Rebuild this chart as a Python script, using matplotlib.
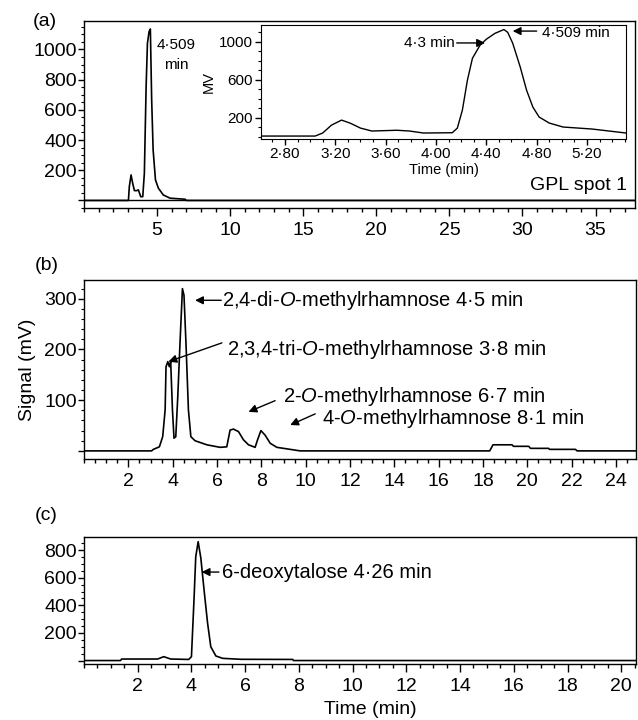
import numpy as np
import matplotlib
matplotlib.use("Agg")
import matplotlib.pyplot as plt
from matplotlib.ticker import MultipleLocator, FixedLocator

plt.rcParams['font.family'] = ['Liberation Sans', 'DejaVu Sans']
plt.rcParams['mathtext.fontset'] = 'custom'
plt.rcParams['mathtext.rm'] = 'Liberation Sans'
plt.rcParams['mathtext.it'] = 'Liberation Sans:italic'

# ---- data ----
# (a) GPL spot 1, full run
a_time = [0, 3.04, 3.10, 3.22, 3.33, 3.45, 3.61, 3.72, 3.88, 4.02, 4.13, 4.25, 4.34,
          4.45, 4.54, 4.63, 4.73, 4.89, 5.09, 5.43, 5.89, 6.92, 7.0, 37.7]
a_signal = [0, 0, 91, 169, 114, 65, 65, 70, 25, 25, 180, 753, 1040,
            1117, 1135, 665, 334, 136, 81, 36, 15, 8, 0, 0]

# (a) inset, zoom on 2.6-5.5 min
in_time = [2.61, 3.04, 3.10, 3.17, 3.25, 3.32, 3.40, 3.49, 3.69, 3.79, 3.90, 4.13, 4.17,
           4.21, 4.25, 4.29, 4.35, 4.40, 4.47, 4.54, 4.57, 4.61, 4.67, 4.72, 4.77,
           4.82, 4.90, 5.01, 5.24, 5.51]
in_signal = [5, 5, 37, 120, 173, 140, 89, 58, 66, 58, 37, 40, 89,
             278, 593, 824, 961, 1024, 1087, 1126, 1097, 982, 730, 488, 310,
             205, 142, 100, 79, 37]

# (b) methylated rhamnoses
b_time = [0, 3.05, 3.13, 3.40, 3.55, 3.66, 3.70, 3.78, 3.85, 3.91, 3.99, 4.06, 4.14,
          4.23, 4.33, 4.44, 4.51, 4.60, 4.71, 4.82, 5.01, 5.54, 6.14, 6.44, 6.59,
          6.74, 6.97, 7.19, 7.42, 7.72, 7.83, 7.98, 8.17, 8.40, 8.70, 9.30, 9.75,
          18.30, 18.45, 19.31, 19.37, 20.06, 20.14, 20.96, 21.0, 22.17, 22.24, 24.9]
b_signal = [0, 0, 3, 8, 28, 81, 166, 176, 166, 176, 81, 25, 28,
            107, 212, 320, 307, 212, 81, 28, 20, 12, 7, 8, 41,
            43, 38, 22, 12, 7, 22, 40, 31, 15, 7, 3, 0,
            0, 12, 12, 9, 9, 5, 5, 3, 3, 0, 0]

# (c) 6-deoxytalose
c_time = [0, 1.36, 1.40, 2.74, 2.97, 3.23, 3.90, 4.00, 4.10, 4.16, 4.25, 4.35, 4.47,
          4.60, 4.72, 4.91, 5.16, 5.84, 7.77, 7.80, 20.55]
c_signal = [0, 0, 11, 11, 28, 11, 8, 28, 462, 752, 861, 742, 511,
            272, 100, 33, 16, 9, 8, 0, 0]

fig = plt.figure(figsize=(6.38, 7.2), dpi=100)

TICK_FS = 14
ANN_FS = 14.5
arrow = dict(arrowstyle='-|>', color='k', lw=1, shrinkA=0, shrinkB=0, mutation_scale=12)


def style_axis(ax, xmajor, xminor, yticks, yminor):
    ax.xaxis.set_major_locator(FixedLocator(xmajor))
    ax.xaxis.set_minor_locator(MultipleLocator(xminor))
    ax.set_yticks(yticks)
    ax.set_yticklabels(['' if v == 0 else str(v) for v in yticks])
    ax.yaxis.set_minor_locator(MultipleLocator(yminor))
    ax.tick_params(axis='x', which='major', direction='out', length=6, width=1,
                   labelsize=TICK_FS, pad=4)
    ax.tick_params(axis='x', which='minor', direction='out', length=3, width=1)
    ax.tick_params(axis='y', which='major', direction='out', length=4, width=1,
                   labelsize=TICK_FS, pad=1)
    ax.tick_params(axis='y', which='minor', direction='out', length=2, width=0.8)
    for s in ax.spines.values():
        s.set_linewidth(1)


# ---- panel (a) ----
ax_a = fig.add_axes([84 / 638, 1 - 208 / 720, 551 / 638, 187 / 720])
ax_a.plot(a_time, a_signal, color='k', lw=1.2)
ax_a.axhline(0, color='k', lw=1)
ax_a.set_xlim(0, 37.7)
ax_a.set_ylim(-50, 1188)
style_axis(ax_a, [5, 10, 15, 20, 25, 30, 35], 1, [0, 200, 400, 600, 800, 1000], 50)
ax_a.text(6.3, 963, '4·509\nmin', ha='center', va='center', fontsize=11, linespacing=1.5)
ax_a.text(0.985, 0.118, 'GPL spot 1', transform=ax_a.transAxes, ha='right', va='center',
          fontsize=14)

# inset
ax_in = fig.add_axes([261 / 638, 1 - 139 / 720, 365 / 638, 114 / 720])
ax_in.plot(in_time, in_signal, color='k', lw=1)
ax_in.set_xlim(2.61, 5.51)
ax_in.set_ylim(-26, 1174)
ax_in.set_xticks([2.8, 3.2, 3.6, 4.0, 4.4, 4.8, 5.2])
ax_in.set_xticklabels(['2·80', '3·20', '3·60', '4·00', '4·40', '4·80', '5·20'])
ax_in.xaxis.set_minor_locator(MultipleLocator(0.1))
ax_in.set_yticks([200, 600, 1000])
ax_in.yaxis.set_minor_locator(MultipleLocator(100))
ax_in.tick_params(axis='both', which='major', direction='out', length=4, width=1,
                  labelsize=11, pad=2)
ax_in.tick_params(axis='both', which='minor', direction='out', length=2, width=0.8)
ax_in.set_xlabel('Time (min)', fontsize=10.5, labelpad=1)
ax_in.set_ylabel('MV', fontsize=10.5, labelpad=2)
ax_in.annotate('', xy=(4.39, 985), xytext=(4.165, 985), arrowprops=arrow)
ax_in.text(4.15, 985, '4·3 min', ha='right', va='center', fontsize=11)
ax_in.annotate('', xy=(4.61, 1110), xytext=(4.80, 1110), arrowprops=arrow)
ax_in.text(4.84, 1085, '4·509 min', ha='left', va='center', fontsize=11)

# ---- panel (b) ----
ax_b = fig.add_axes([84 / 638, 1 - 459 / 720, 552 / 638, 179 / 720])
ax_b.plot(b_time, b_signal, color='k', lw=1.2)
ax_b.set_xlim(0, 24.9)
ax_b.set_ylim(-16, 337)
style_axis(ax_b, list(range(2, 25, 2)), 0.5, [0, 100, 200, 300], 20)
ax_b.set_ylabel('Signal (mV)', fontsize=14, labelpad=6)

ax_b.annotate('', xy=(5.01, 297), xytext=(6.19, 297), arrowprops=arrow)
ax_b.text(6.23, 297, r'2,4-di-$\mathit{O}$-methylrhamnose 4·5 min', ha='left', va='center',
          fontsize=ANN_FS)
ax_b.annotate('', xy=(3.81, 176), xytext=(6.22, 213), arrowprops=arrow)
ax_b.text(6.46, 199, r'2,3,4-tri-$\mathit{O}$-methylrhamnose 3·8 min', ha='left', va='center',
          fontsize=ANN_FS)
ax_b.annotate('', xy=(7.42, 77), xytext=(8.62, 99), arrowprops=arrow)
ax_b.text(8.98, 107, r'2-$\mathit{O}$-methylrhamnose 6·7 min', ha='left', va='center',
          fontsize=ANN_FS)
ax_b.annotate('', xy=(9.30, 51), xytext=(10.43, 73), arrowprops=arrow)
ax_b.text(10.73, 64, r'4-$\mathit{O}$-methylrhamnose 8·1 min', ha='left', va='center',
          fontsize=ANN_FS)

# ---- panel (c) ----
ax_c = fig.add_axes([84 / 638, 1 - 664 / 720, 552 / 638, 127 / 720])
ax_c.plot(c_time, c_signal, color='k', lw=1.2)
ax_c.set_xlim(0, 20.55)
ax_c.set_ylim(-25, 895)
style_axis(ax_c, list(range(2, 21, 2)), 0.5, [0, 200, 400, 600, 800], 50)
ax_c.annotate('', xy=(4.38, 641), xytext=(5.02, 641), arrowprops=arrow)
ax_c.text(5.13, 641, '6-deoxytalose 4·26 min', ha='left', va='center', fontsize=ANN_FS)

# panel letters and shared label
fig.text(33 / 638, 1 - 22 / 720, '(a)', fontsize=14, va='center')
fig.text(35 / 638, 1 - 265 / 720, '(b)', fontsize=14, va='center')
fig.text(35 / 638, 1 - 515 / 720, '(c)', fontsize=14, va='center')
fig.text(370 / 638, 1 - 710 / 720, 'Time (min)', fontsize=14, ha='center', va='center')

fig.savefig('out.png', dpi=100)
